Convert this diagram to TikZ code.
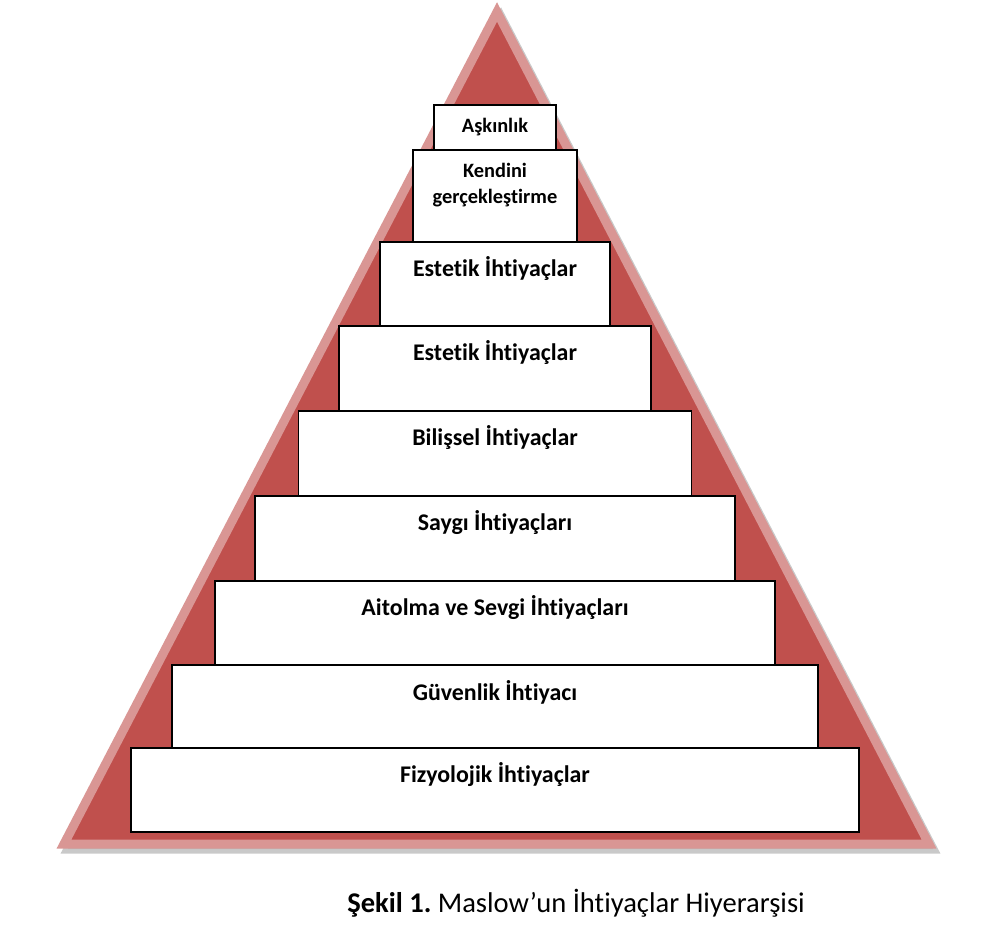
\documentclass[tikz,border=0pt]{standalone}
\usepackage{fontspec}
\setmainfont{Carlito}[Ligatures=NoCommon]
\usetikzlibrary{positioning}
\definecolor{pyrared}{HTML}{C0504D}
\definecolor{pyraedge}{HTML}{D99694}
\tikzset{
  stepbox/.style={draw=black,fill=white,line width=1.2pt,inner sep=0pt,outer sep=0pt},
  steptext/.style={font=\bfseries\fontsize{17}{20}\selectfont,align=center},
  smalltext/.style={font=\bfseries\fontsize{14.5}{18.5}\selectfont,align=center},
}
\frenchspacing

\begin{document}
\begin{tikzpicture}[x=0.025cm,y=-0.025cm]
  \useasboundingbox (0,0) rectangle (985,936);
  \coordinate (T) at (497,12);
  \coordinate (L) at (64,844);
  \coordinate (R) at (929,844);

  % shadow, then the pyramid
  \filldraw[fill=black!30,draw=black!30,line width=0.225cm,opacity=0.7]
    ([shift={(4,5)}]T) -- ([shift={(4,5)}]L) -- ([shift={(4,5)}]R) -- cycle;
  \filldraw[fill=pyrared,draw=pyraedge,line width=0.225cm] (T) -- (L) -- (R) -- cycle;

  \node[stepbox,minimum width=18.2cm,minimum height=2.1cm] (fizyo) at (495,790) {};
  \node[stepbox,minimum width=16.15cm,minimum height=2.075cm,above=0pt of fizyo] (guven) {};
  \node[stepbox,minimum width=14cm,minimum height=2.1cm,above=0pt of guven] (aidiyet) {};
  \node[stepbox,minimum width=12cm,minimum height=2.125cm,above=0pt of aidiyet] (saygi) {};
  \node[stepbox,minimum width=9.825cm,minimum height=2.125cm,above=0pt of saygi] (bilis) {};
  \node[stepbox,minimum width=7.8cm,minimum height=2.125cm,above=0pt of bilis] (estetikA) {};
  \node[stepbox,minimum width=5.75cm,minimum height=2.1cm,above=0pt of estetikA] (estetikB) {};
  \node[stepbox,minimum width=4.1cm,minimum height=2.3cm,above=0pt of estetikB] (kendini) {};
  \node[stepbox,minimum width=3.05cm,minimum height=1.125cm,above=0pt of kendini] (askin) {};

  \node[steptext] (fizyoT) at ([yshift=-0.675cm]fizyo.north) {Fizyolojik İhtiyaçlar};
  \node[steptext] (guvenT) at ([yshift=-0.675cm]guven.north) {Güvenlik İhtiyacı};
  \node[steptext] (aidiyetT) at ([yshift=-0.675cm]aidiyet.north) {Aitolma ve Sevgi İhtiyaçları};
  \node[steptext] (saygiT) at ([yshift=-0.675cm]saygi.north) {Saygı İhtiyaçları};
  \node[steptext] (bilisT) at ([yshift=-0.675cm]bilis.north) {Bilişsel İhtiyaçlar};
  \node[steptext] (estetikAT) at ([yshift=-0.675cm]estetikA.north) {Estetik İhtiyaçlar};
  \node[steptext] (estetikBT) at ([yshift=-0.675cm]estetikB.north) {Estetik İhtiyaçlar};
  \node[smalltext] (kendiniT) at ([yshift=-0.875cm]kendini.north) {Kendini\\gerçekleştirme};
  \node[smalltext] (askinT) at (askin) {Aşkınlık};

  \node[anchor=west,inner sep=0pt,font=\fontsize{20.3}{24}\selectfont] (caption) at (347,903)
    {\textbf{Şekil 1.} Maslow’un İhtiyaçlar Hiyerarşisi};
\end{tikzpicture}
\end{document}
